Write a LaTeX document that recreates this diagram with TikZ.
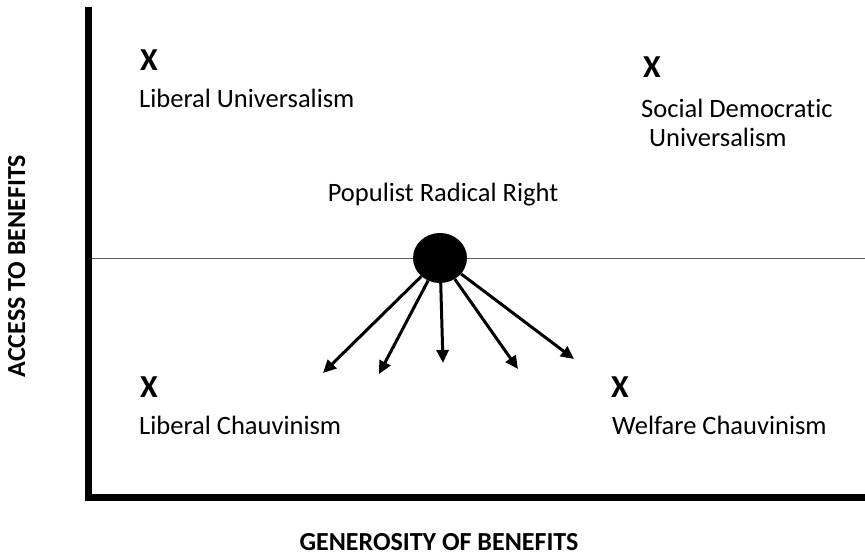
\documentclass[tikz,border=0pt]{standalone}
\usepackage{fontspec}
\setmainfont{Carlito}[Ligatures={NoCommon}]
\usetikzlibrary{arrows.meta,shapes.geometric}
\begin{document}
\begin{tikzpicture}[x=1pt,y=-1pt,
  lbl/.style={font=\fontsize{26.5}{30}\selectfont, anchor=base west, inner sep=0pt},
  xmark/.style={font=\bfseries\fontsize{32}{36}\selectfont, anchor=base, inner sep=0pt},
  axlbl/.style={font=\bfseries\fontsize{26}{30}\selectfont, inner sep=0pt},
  axis/.style={line width=7pt},
  ray/.style={line width=3pt, -{Triangle[length=13pt,width=12pt]}}]
\useasboundingbox (0,0) rectangle (865,555);
% axes
\coordinate (ytop) at (88,7);
\coordinate (corner) at (88,497);
\coordinate (xend) at (865,497);
\draw[axis, line cap=butt] (ytop) -- (corner) -- (xend);
% midline
\coordinate (mL) at (92,258);
\coordinate (mR) at (865,258);
\draw[gray!70!black, line width=0.8pt] (mL) -- (mR);
% circle
\node[ellipse, fill=black, minimum width=54pt, minimum height=50pt, inner sep=0pt] (prr) at (440,258) {};
\node[lbl, anchor=base] (prrlbl) at (443,201) {Populist Radical Right};
% arrow tips
\coordinate (t1) at (323,373);
\coordinate (t2) at (379,374);
\coordinate (t3) at (443,363);
\coordinate (t4) at (518,369);
\coordinate (t5) at (574,359);
\foreach \t in {t1,t2,t3,t4,t5} \draw[ray] (prr) -- (\t);
% X marks and labels
\node[xmark] (x1) at (149,70) {X};
\node[lbl] (l1) at (139,107) {Liberal Universalism};
\node[xmark] (x2) at (652,77) {X};
\node[lbl] (l2a) at (641,117) {Social Democratic};
\node[lbl] (l2b) at (649,146) {Universalism};
\node[xmark] (x3) at (149,397) {X};
\node[lbl] (l3) at (139,434) {Liberal Chauvinism};
\node[xmark] (x4) at (620,397) {X};
\node[lbl] (l4) at (612,434) {Welfare Chauvinism};
% axis labels
\node[axlbl, rotate=90, anchor=base] (ylab) at (25,266) {ACCESS TO BENEFITS};
\node[axlbl, anchor=base] (xlab) at (439,550) {GENEROSITY OF BENEFITS};
\end{tikzpicture}
\end{document}
